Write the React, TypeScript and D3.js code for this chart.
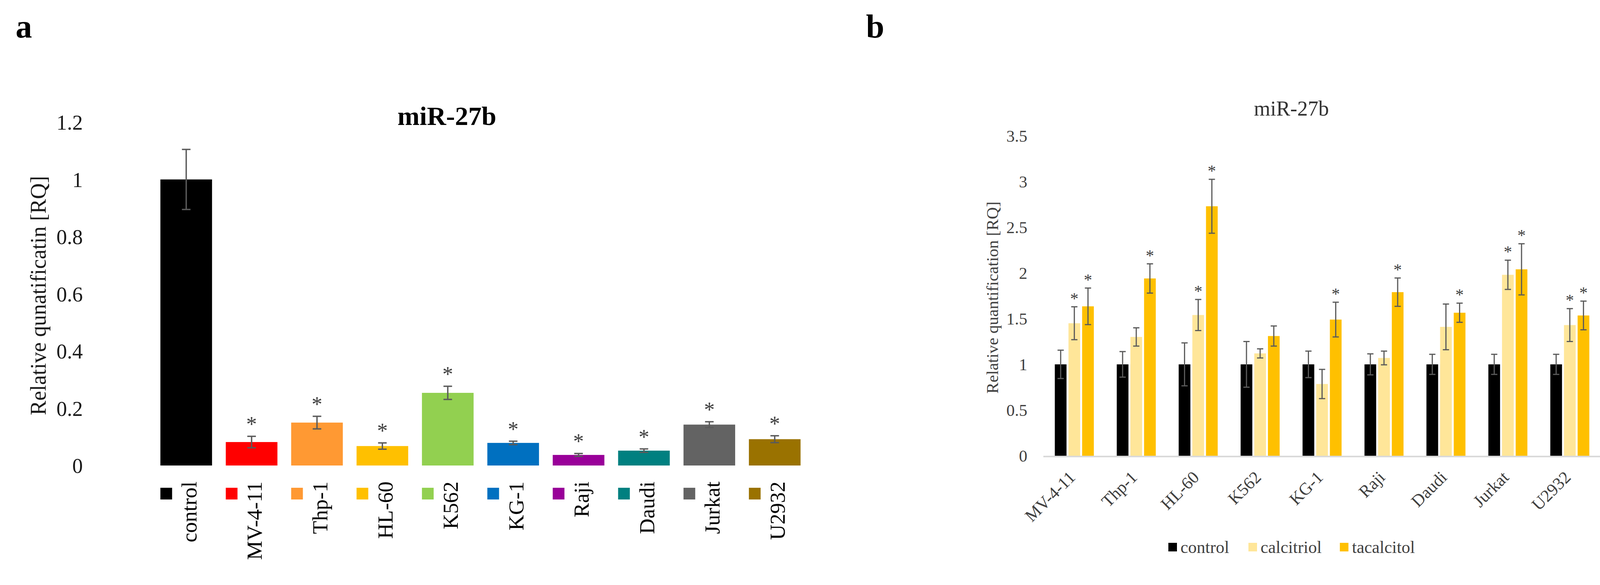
import * as d3 from 'd3';

// ---- panel a data ----
const cellLinesA = ['control', 'MV-4-11', 'Thp-1', 'HL-60', 'K562', 'KG-1', 'Raji', 'Daudi', 'Jurkat', 'U2932'];
const valuesA = [1.0, 0.082, 0.15, 0.068, 0.254, 0.079, 0.037, 0.052, 0.143, 0.092];
const errorsA = [0.105, 0.02, 0.022, 0.011, 0.023, 0.006, 0.005, 0.006, 0.01, 0.012];
const starsA = [false, true, true, true, true, true, true, true, true, true];
const colorsA = ['#000000', '#ff0000', '#ff9933', '#ffc000', '#92d050', '#0070c0', '#990099', '#008080', '#636363', '#9a7200'];
const ticksA = [0, 0.2, 0.4, 0.6, 0.8, 1, 1.2];

// ---- panel b data ----
const cellLinesB = ['MV-4-11', 'Thp-1', 'HL-60', 'K562', 'KG-1', 'Raji', 'Daudi', 'Jurkat', 'U2932'];
const treatments = ['control', 'calcitriol', 'tacalcitol'];
const treatmentColors = ['#000000', '#ffe699', '#ffc000'];
const controlB = [1, 1, 1, 1, 1, 1, 1, 1, 1];
const controlErrB = [0.155, 0.14, 0.235, 0.25, 0.145, 0.115, 0.11, 0.11, 0.11];
const calcitriolB = [1.45, 1.3, 1.54, 1.12, 0.785, 1.07, 1.41, 1.98, 1.43];
const calcitriolErrB = [0.18, 0.1, 0.17, 0.05, 0.16, 0.075, 0.25, 0.16, 0.18];
const tacalcitolB = [1.635, 1.94, 2.73, 1.31, 1.49, 1.79, 1.565, 2.04, 1.535];
const tacalcitolErrB = [0.2, 0.16, 0.295, 0.11, 0.19, 0.155, 0.105, 0.28, 0.157];
const controlSigB = [false, false, false, false, false, false, false, false, false];
const calcitriolSigB = [true, false, true, false, false, false, false, true, true];
const tacalcitolSigB = [true, true, true, false, true, true, true, true, true];
const ticksB = [0, 0.5, 1, 1.5, 2, 2.5, 3, 3.5];

const FONT = '"Liberation Serif", "Times New Roman", serif';
const ERR = '#5a5a5a';

function PanelA() {
  const x = d3.scaleBand<string>().domain(cellLinesA).range([393, 2067]).paddingInner(0.21).paddingOuter(0.105);
  const y = d3.scaleLinear().domain([0, 1.2]).range([1192, 313]);
  const cap = 11;

  return (
    <g fontFamily={FONT}>
      <text x={40} y={96} fontSize={84} fontWeight="bold">a</text>
      <text x={1144} y={320} fontSize={68} fontWeight="bold" textAnchor="middle">miR-27b</text>
      <text transform={`translate(117,757) rotate(-90)`} fontSize={56} textAnchor="middle" fill="#1a1a1a">
        Relative qunatificatin [RQ]
      </text>
      {ticksA.map(t => (
        <text key={t} x={212} y={y(t) + 19} fontSize={54} textAnchor="end" fill="#1a1a1a">{d3.format('~g')(t)}</text>
      ))}
      {cellLinesA.map((c, i) => {
        const x0 = x(c)!;
        const cx = x0 + x.bandwidth() / 2;
        const top = y(valuesA[i] + errorsA[i]);
        const bot = y(valuesA[i] - errorsA[i]);
        return (
          <g key={c}>
            <rect x={x0} y={y(valuesA[i])} width={x.bandwidth()} height={y(0) - y(valuesA[i])} fill={colorsA[i]} />
            <line x1={cx} x2={cx} y1={top} y2={bot} stroke={ERR} strokeWidth={3.5} />
            <line x1={cx - cap} x2={cx + cap} y1={top} y2={top} stroke={ERR} strokeWidth={3.5} />
            <line x1={cx - cap} x2={cx + cap} y1={bot} y2={bot} stroke={ERR} strokeWidth={3.5} />
            {starsA[i] && (
              <text x={cx} y={top - 13} fontSize={55} textAnchor="middle" fill="#404040">*</text>
            )}
            <rect x={x0} y={1249} width={30} height={30} fill={colorsA[i]} />
            <text transform={`translate(${cx + 26},1233) rotate(-90)`} fontSize={55} textAnchor="end">{c}</text>
          </g>
        );
      })}
    </g>
  );
}

function PanelB() {
  const x0 = d3.scaleBand<string>().domain(cellLinesB).range([2671, 4098]).paddingInner(0.37).paddingOuter(0.185);
  const x1 = d3.scaleBand<string>().domain(treatments).range([0, x0.bandwidth()]).paddingInner(0.143);
  const y = d3.scaleLinear().domain([0, 3.5]).range([1167, 348]);
  const series = [
    { v: controlB, e: controlErrB, s: controlSigB },
    { v: calcitriolB, e: calcitriolErrB, s: calcitriolSigB },
    { v: tacalcitolB, e: tacalcitolErrB, s: tacalcitolSigB },
  ];
  const cap = 8;
  const legendX = [2991, 3196, 3430];

  return (
    <g fontFamily={FONT}>
      <text x={2217} y={96} fontSize={84} fontWeight="bold">b</text>
      <text x={3306} y={296} fontSize={54} textAnchor="middle" fill="#333333">miR-27b</text>
      <text transform={`translate(2555,762) rotate(-90)`} fontSize={43} textAnchor="middle" fill="#404040">
        Relative quantification [RQ]
      </text>
      {ticksB.map(t => (
        <text key={t} x={2630} y={y(t) + 15} fontSize={43} textAnchor="end" fill="#404040">{d3.format('~g')(t)}</text>
      ))}
      <line x1={2671} x2={4098} y1={y(0) + 2} y2={y(0) + 2} stroke="#d9d9d9" strokeWidth={4} />
      {cellLinesB.map((c, gi) => {
        const gx = x0(c)!;
        return (
          <g key={c}>
            {series.map((s, si) => {
              const bx = gx + x1(treatments[si])!;
              const cx = bx + x1.bandwidth() / 2;
              const v = s.v[gi];
              const top = y(v + s.e[gi]);
              const bot = y(v - s.e[gi]);
              return (
                <g key={si}>
                  <rect x={bx} y={y(v)} width={x1.bandwidth()} height={y(0) - y(v)} fill={treatmentColors[si]} />
                  <line x1={cx} x2={cx} y1={top} y2={bot} stroke={ERR} strokeWidth={3} />
                  <line x1={cx - cap} x2={cx + cap} y1={top} y2={top} stroke={ERR} strokeWidth={3} />
                  <line x1={cx - cap} x2={cx + cap} y1={bot} y2={bot} stroke={ERR} strokeWidth={3} />
                  {s.s[gi] && (
                    <text x={cx} y={top - 7} fontSize={43} textAnchor="middle" fill="#404040">*</text>
                  )}
                </g>
              );
            })}
            <text
              transform={`translate(${gx + x0.bandwidth() / 2 + 5},1225) rotate(-45)`}
              fontSize={44}
              textAnchor="end"
              fill="#404040"
            >
              {c}
            </text>
          </g>
        );
      })}
      {treatments.map((t, i) => (
        <g key={t}>
          <rect x={legendX[i]} y={1390} width={22} height={22} fill={treatmentColors[i]} />
          <text x={legendX[i] + 31} y={1416} fontSize={44} fill="#404040">{t}</text>
        </g>
      ))}
    </g>
  );
}

export default function App() {
  return (
    <svg
      width={4148}
      height={1498}
      style={{ position: 'absolute', left: 0, top: 0, background: '#ffffff', display: 'block' }}
    >
      <rect width={4148} height={1498} fill="#ffffff" />
      <PanelA />
      <PanelB />
    </svg>
  );
}
